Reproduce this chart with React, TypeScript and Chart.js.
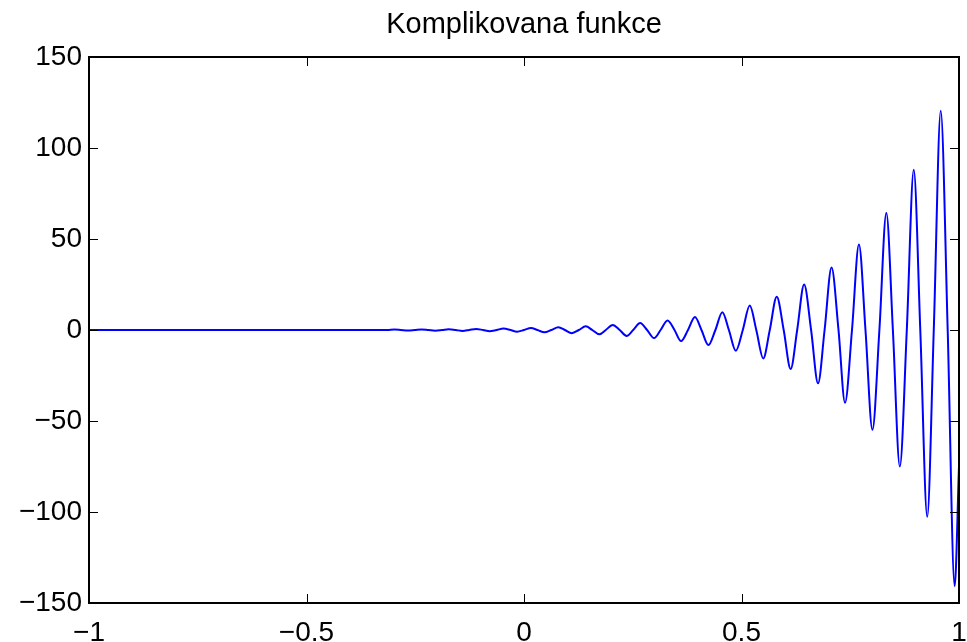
import { useEffect, useRef } from "react";
import { Chart, registerables } from "chart.js";

Chart.register(...registerables);

const TITLE = "Komplikovana funkce";
const FONT = '"Liberation Sans", Arial, Helvetica, sans-serif';

// Axis limits and tick steps
const X_MIN = -1;
const X_MAX = 1;
const X_STEP = 0.5;
const Y_MIN = -150;
const Y_MAX = 150;
const Y_STEP = 50;

// Curve end points
const startX = -1;
const startY = 0;
const endX = 1;
const endY = -75;

// Local maxima of the curve
const peakX = [
  -0.298, -0.236, -0.173, -0.11, -0.047, 0.016, 0.079, 0.142, 0.204, 0.267, 0.33,
  0.393, 0.456, 0.519, 0.581, 0.644, 0.707, 0.77, 0.833, 0.896, 0.958,
];
const peakY = [
  0.22, 0.31, 0.42, 0.58, 0.79, 1.08, 1.48, 2.0, 2.8, 3.8, 5.2,
  7.1, 9.8, 13.4, 18.3, 25.0, 34.3, 47.0, 64.3, 88.0, 120.5,
];

// Local minima of the curve
const troughX = [
  -0.267, -0.204, -0.141, -0.079, -0.016, 0.047, 0.11, 0.173, 0.236, 0.299, 0.361,
  0.424, 0.487, 0.55, 0.613, 0.676, 0.738, 0.801, 0.864, 0.927, 0.99,
];
const troughY = [
  -0.26, -0.36, -0.49, -0.67, -0.92, -1.27, -1.73, -2.4, -3.25, -4.45, -6.1,
  -8.3, -11.4, -15.6, -21.4, -29.3, -40.0, -54.8, -75.0, -102.6, -140.8,
];

// Zero crossings of the curve
const zeroX = [
  -0.314, -0.283, -0.251, -0.22, -0.188, -0.157, -0.126, -0.094, -0.063, -0.031,
  0, 0.031, 0.063, 0.094, 0.126, 0.157, 0.188, 0.22, 0.251, 0.283, 0.314, 0.346,
  0.377, 0.408, 0.44, 0.471, 0.503, 0.534, 0.565, 0.597, 0.628, 0.66, 0.691,
  0.723, 0.754, 0.785, 0.817, 0.848, 0.88, 0.911, 0.942, 0.974,
];

function buildCurve() {
  const pts: { x: number; y: number }[] = [{ x: startX, y: startY }];
  peakX.forEach((x, i) => pts.push({ x, y: peakY[i] }));
  troughX.forEach((x, i) => pts.push({ x, y: troughY[i] }));
  zeroX.forEach((x) => pts.push({ x, y: 0 }));
  pts.push({ x: endX, y: endY });
  pts.sort((a, b) => a.x - b.x);
  return pts;
}

const fmt = (v: number) => (v < 0 ? "\u2212" + String(Math.abs(v)) : String(v));

// Box around the plot area with inward-pointing ticks on all four sides
const boxPlugin = {
  id: "axesBox",
  afterDraw(chart: any) {
    const { ctx, chartArea } = chart;
    const { left, right, top, bottom } = chartArea;
    const xs = chart.scales.x;
    const ys = chart.scales.y;
    const tick = 9;
    ctx.save();
    ctx.strokeStyle = "#000";
    ctx.lineWidth = 1;
    ctx.beginPath();
    xs.ticks.forEach((t: any) => {
      const px = Math.round(xs.getPixelForValue(t.value)) + 0.5;
      ctx.moveTo(px, bottom);
      ctx.lineTo(px, bottom - tick);
      ctx.moveTo(px, top);
      ctx.lineTo(px, top + tick);
    });
    ys.ticks.forEach((t: any) => {
      const py = Math.round(ys.getPixelForValue(t.value)) + 0.5;
      ctx.moveTo(left, py);
      ctx.lineTo(left + tick, py);
      ctx.moveTo(right, py);
      ctx.lineTo(right - tick, py);
    });
    ctx.stroke();
    ctx.lineWidth = 2;
    ctx.strokeRect(Math.round(left), Math.round(top), Math.round(right - left), Math.round(bottom - top));
    ctx.restore();
  },
};

export default function App() {
  const ref = useRef<HTMLCanvasElement | null>(null);

  useEffect(() => {
    document.body.style.margin = "0";
    if (!ref.current) return;
    const chart = new Chart(ref.current, {
      type: "line",
      data: {
        datasets: [
          {
            data: buildCurve(),
            borderColor: "#0000ff",
            borderWidth: 2,
            pointRadius: 0,
            fill: false,
            cubicInterpolationMode: "monotone",
          },
        ],
      },
      options: {
        responsive: false,
        animation: false,
        layout: { padding: { left: 0, right: 8, top: 0, bottom: 0 } },
        plugins: {
          legend: { display: false },
          tooltip: { enabled: false },
          title: {
            display: true,
            text: TITLE,
            color: "#000",
            fullSize: false,
            font: { family: FONT, size: 29, weight: "normal" },
            padding: { top: 8, bottom: 14.2 },
          },
        },
        scales: {
          x: {
            type: "linear",
            min: X_MIN,
            max: X_MAX,
            grid: { display: false, drawTicks: false },
            border: { display: false },
            afterFit: (s: any) => {
              s.height = 39;
              s.paddingLeft = 0;
              s.paddingRight = 0;
            },
            ticks: {
              stepSize: X_STEP,
              autoSkip: false,
              maxRotation: 0,
              padding: 13,
              color: "#000",
              font: { family: FONT, size: 28 },
              callback: (v: any) => fmt(Number(v)),
            },
          },
          y: {
            type: "linear",
            min: Y_MIN,
            max: Y_MAX,
            grid: { display: false, drawTicks: false },
            border: { display: false },
            afterFit: (s: any) => {
              s.width = 89;
            },
            ticks: {
              stepSize: Y_STEP,
              autoSkip: false,
              padding: 7,
              color: "#000",
              font: { family: FONT, size: 28 },
              callback: (v: any) => fmt(Number(v)),
            },
          },
        },
      },
      plugins: [boxPlugin],
    });
    return () => chart.destroy();
  }, []);

  return (
    <div style={{ position: "absolute", left: 0, top: 0, width: 967, height: 642, background: "#fff" }}>
      <canvas ref={ref} width={967} height={642} />
    </div>
  );
}
